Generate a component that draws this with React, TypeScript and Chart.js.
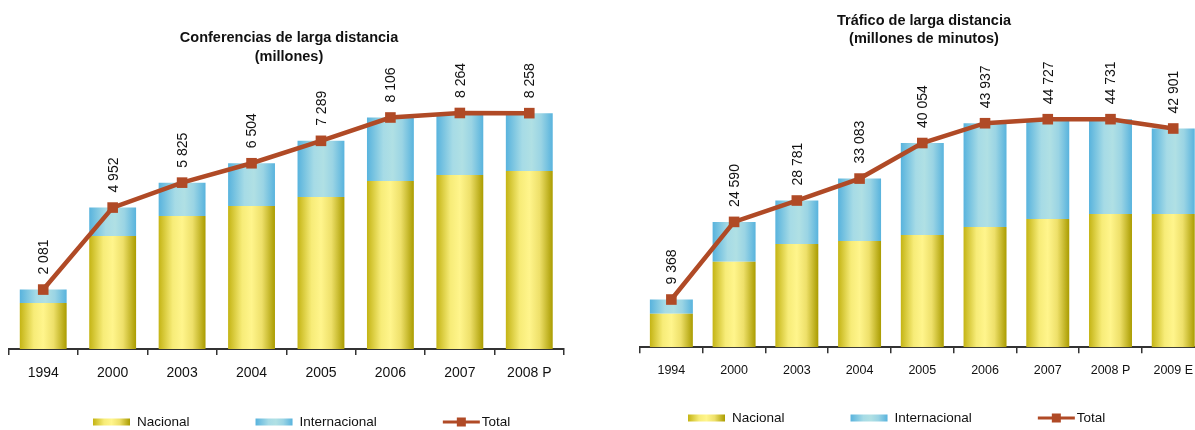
import React, { useEffect, useRef } from 'react';
import { Chart, registerables } from 'chart.js';

Chart.register(...registerables);

// ---------- DATA ----------
const leftCategories = ['1994', '2000', '2003', '2004', '2005', '2006', '2007', '2008 P'];
const leftNacional = [1611, 3957, 4657, 5007, 5322, 5882, 6092, 6232];
const leftInternacional = [470, 995, 1168, 1497, 1967, 2224, 2172, 2026];
const leftTotal = [2081, 4952, 5825, 6504, 7289, 8106, 8264, 8258];
const leftTitle = ['Conferencias de larga distancia', '(millones)'];

const rightCategories = ['1994', '2000', '2003', '2004', '2005', '2006', '2007', '2008 P', '2009 E'];
const rightNacional = [6588, 16784, 20255, 20843, 22020, 23588, 25157, 26137, 26137];
const rightInternacional = [2780, 7806, 8526, 12240, 18034, 20349, 19570, 18594, 16764];
const rightTotal = [9368, 24590, 28781, 33083, 40054, 43937, 44727, 44731, 42901];
const rightTitle = ['Tráfico de larga distancia', '(millones de minutos)'];

const seriesNames = ['Nacional', 'Internacional', 'Total'];

// ---------- STYLE ----------
const FONT = '"Liberation Sans", Arial, Helvetica, sans-serif';
const RUST = '#b04a26';
const YELLOW_STOPS: [number, string][] = [
  [0, '#c4b414'],
  [0.3, '#f7ec78'],
  [0.5, '#fff58c'],
  [0.72, '#eee06a'],
  [1, '#aa9c00'],
];
const BLUE_STOPS: [number, string][] = [
  [0, '#58b3dd'],
  [0.35, '#a6dbe6'],
  [0.55, '#b0e0e4'],
  [0.75, '#9ad4e4'],
  [1, '#58b3dd'],
];

function grad(ctx: CanvasRenderingContext2D, x0: number, w: number, stops: [number, string][]) {
  const g = ctx.createLinearGradient(x0, 0, x0 + w, 0);
  stops.forEach(([o, c]) => g.addColorStop(o, c));
  return g;
}

function fmt(v: number) {
  return String(v).replace(/\B(?=(\d{3})+(?!\d))/g, ' ');
}

interface Cfg {
  categories: string[];
  nacional: number[];
  internacional: number[];
  total: number[];
  title: string[];
  yMax: number;
  padLeft: number;
  padRight: number;
  padTop: number;
  axisHeight: number;
  barPct: number;
  tickFont: number;
  tickPadding: number;
  titleX: number;
  titleY: number;
  titleGap: number;
  legendX: number;
  legendY: number;
}

function barColor(stops: [number, string][], cfg: Cfg) {
  return (c: any) => {
    const chart = c.chart;
    const xs = chart.scales && chart.scales.x;
    if (!xs || c.dataIndex === undefined || !chart.chartArea) return stops[2][1];
    const cx = xs.getPixelForValue(c.dataIndex);
    const w = (xs.width / cfg.categories.length) * cfg.barPct;
    if (!isFinite(cx) || !isFinite(w)) return stops[2][1];
    return grad(chart.ctx, cx - w / 2, w, stops);
  };
}

function decorPlugin(cfg: Cfg) {
  return {
    id: 'decor',
    afterDraw(chart: any) {
      const ctx: CanvasRenderingContext2D = chart.ctx;
      ctx.save();
      // Title
      ctx.fillStyle = '#111';
      ctx.font = `bold 14.5px ${FONT}`;
      ctx.textAlign = 'center';
      ctx.textBaseline = 'middle';
      cfg.title.forEach((t, i) => ctx.fillText(t, cfg.titleX, cfg.titleY + i * cfg.titleGap));

      // Value labels (rotated)
      const meta = chart.getDatasetMeta(2);
      ctx.font = `14px ${FONT}`;
      meta.data.forEach((pt: any, i: number) => {
        ctx.save();
        ctx.translate(pt.x + 1, pt.y - 15);
        ctx.rotate(-Math.PI / 2);
        ctx.textAlign = 'left';
        ctx.textBaseline = 'middle';
        ctx.fillStyle = '#111';
        ctx.fillText(fmt(cfg.total[i]), 0, 0);
        ctx.restore();
      });

      // Legend
      ctx.font = `13.5px ${FONT}`;
      ctx.textAlign = 'left';
      ctx.textBaseline = 'middle';
      let x = cfg.legendX;
      const y = cfg.legendY;
      seriesNames.forEach((name, i) => {
        let textX;
        if (i < 2) {
          ctx.fillStyle = grad(ctx, x, 37, i === 0 ? YELLOW_STOPS : BLUE_STOPS);
          ctx.fillRect(x, y - 3.5, 37, 7);
          textX = x + 44;
        } else {
          ctx.strokeStyle = RUST;
          ctx.lineWidth = 3;
          ctx.beginPath();
          ctx.moveTo(x, y);
          ctx.lineTo(x + 37, y);
          ctx.stroke();
          ctx.fillStyle = RUST;
          ctx.fillRect(x + 18.5 - 4.5, y - 4.5, 9, 9);
          textX = x + 39;
        }
        ctx.fillStyle = '#111';
        ctx.fillText(name, textX, y);
        x = textX + ctx.measureText(name).width + 66;
      });
      ctx.restore();
    },
  };
}

function ChartCanvas({ cfg, width, left }: { cfg: Cfg; width: number; left: number }) {
  const ref = useRef<HTMLCanvasElement | null>(null);
  useEffect(() => {
    if (!ref.current) return;
    const chart = new Chart(ref.current, {
      type: 'bar',
      data: {
        labels: cfg.categories,
        datasets: [
          {
            type: 'bar',
            label: seriesNames[0],
            data: cfg.nacional,
            backgroundColor: barColor(YELLOW_STOPS, cfg),
            borderWidth: 0,
            stack: 'bars',
            order: 1,
            barPercentage: cfg.barPct,
            categoryPercentage: 1,
          },
          {
            type: 'bar',
            label: seriesNames[1],
            data: cfg.internacional,
            backgroundColor: barColor(BLUE_STOPS, cfg),
            borderWidth: 0,
            stack: 'bars',
            order: 1,
            barPercentage: cfg.barPct,
            categoryPercentage: 1,
          },
          {
            type: 'line',
            label: seriesNames[2],
            data: cfg.total,
            borderColor: RUST,
            backgroundColor: RUST,
            borderWidth: 4.5,
            tension: 0,
            pointStyle: 'rect',
            pointRadius: 7.5,
            pointBorderWidth: 0,
            pointBackgroundColor: RUST,
            stack: 'line',
            order: 0,
            clip: false as any,
          } as any,
        ],
      },
      options: {
        animation: false,
        responsive: false,
        maintainAspectRatio: false,
        devicePixelRatio: 1,
        layout: {
          padding: { left: cfg.padLeft, right: cfg.padRight, top: cfg.padTop, bottom: 0 },
        },
        plugins: {
          legend: { display: false },
          tooltip: { enabled: false },
          title: { display: false },
        },
        scales: {
          x: {
            stacked: true,
            offset: true,
            grid: {
              display: true,
              offset: true,
              drawOnChartArea: false,
              drawTicks: true,
              tickLength: 6,
              color: '#333',
              lineWidth: 1.5,
            },
            border: { display: true, color: '#333', width: 2 },
            ticks: {
              color: '#111',
              font: { family: FONT, size: cfg.tickFont },
              padding: cfg.tickPadding,
              maxRotation: 0,
              autoSkip: false,
            },
            afterFit: (scale: any) => {
              scale.height = cfg.axisHeight;
            },
          },
          y: {
            stacked: true,
            display: false,
            min: 0,
            max: cfg.yMax,
          },
        },
      },
      plugins: [decorPlugin(cfg)],
    });
    return () => chart.destroy();
  }, []);
  return (
    <canvas
      ref={ref}
      width={width}
      height={430}
      style={{ position: 'absolute', left, top: 0, width, height: 430, display: 'block' }}
    />
  );
}

const leftCfg: Cfg = {
  categories: leftCategories,
  nacional: leftNacional,
  internacional: leftInternacional,
  total: leftTotal,
  title: leftTitle,
  yMax: 10000,
  padLeft: 8.5,
  padRight: 36,
  padTop: 63.4,
  axisHeight: 81,
  barPct: 0.675,
  tickFont: 14,
  tickPadding: 10,
  titleX: 289,
  titleY: 37.5,
  titleGap: 19,
  legendX: 93,
  legendY: 422,
};

const rightCfg: Cfg = {
  categories: rightCategories,
  nacional: rightNacional,
  internacional: rightInternacional,
  total: rightTotal,
  title: rightTitle,
  yMax: 50000,
  padLeft: 40,
  padRight: 15.4,
  padTop: 92.3,
  axisHeight: 82.7,
  barPct: 0.685,
  tickFont: 12.5,
  tickPadding: 10,
  titleX: 324,
  titleY: 20.5,
  titleGap: 18.5,
  legendX: 88,
  legendY: 418,
};

export default function App() {
  return (
    <div
      style={{
        position: 'absolute',
        left: 0,
        top: 0,
        width: 1195,
        height: 430,
        overflow: 'hidden',
        background: '#fff',
      }}
    >
      <ChartCanvas cfg={leftCfg} width={600} left={0} />
      <ChartCanvas cfg={rightCfg} width={620} left={600} />
    </div>
  );
}
